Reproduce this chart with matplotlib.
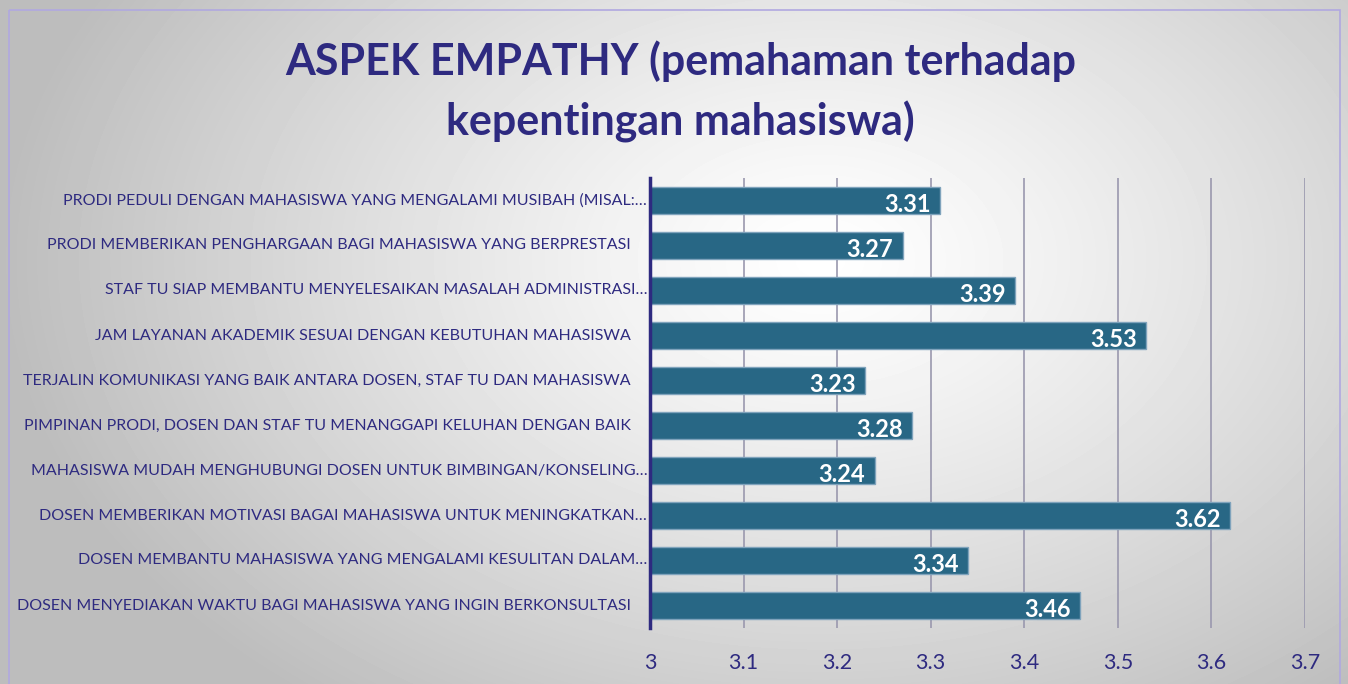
import matplotlib.pyplot as plt
import numpy as np
from matplotlib.patches import Rectangle
from matplotlib.transforms import offset_copy

categories = [
    "PRODI PEDULI DENGAN MAHASISWA YANG MENGALAMI MUSIBAH (MISAL:…",
    "PRODI MEMBERIKAN PENGHARGAAN BAGI MAHASISWA YANG BERPRESTASI",
    "STAF TU SIAP MEMBANTU MENYELESAIKAN MASALAH ADMINISTRASI…",
    "JAM LAYANAN AKADEMIK SESUAI DENGAN KEBUTUHAN MAHASISWA",
    "TERJALIN KOMUNIKASI YANG BAIK ANTARA DOSEN, STAF TU DAN MAHASISWA",
    "PIMPINAN PRODI, DOSEN DAN STAF TU MENANGGAPI KELUHAN DENGAN BAIK",
    "MAHASISWA MUDAH MENGHUBUNGI DOSEN UNTUK BIMBINGAN/KONSELING…",
    "DOSEN MEMBERIKAN MOTIVASI BAGAI MAHASISWA UNTUK MENINGKATKAN…",
    "DOSEN MEMBANTU MAHASISWA YANG MENGALAMI KESULITAN DALAM…",
    "DOSEN MENYEDIAKAN WAKTU BAGI MAHASISWA YANG INGIN BERKONSULTASI",
]
scores = [3.31, 3.27, 3.39, 3.53, 3.23, 3.28, 3.24, 3.62, 3.34, 3.46]
x_ticks = [3, 3.1, 3.2, 3.3, 3.4, 3.5, 3.6, 3.7]

NAVY = "#2E2A80"
BAR = "#286785"
FONT = "Lato"

W, H = 1348, 684
fig = plt.figure(figsize=(W / 100, H / 100), dpi=100)

# radial grey background, brightest near the upper middle
bg = fig.add_axes([0, 0, 1, 1], zorder=0)
yy, xx = np.mgrid[0:H, 0:W]
d = np.sqrt(((xx - 820) / 820) ** 2 + ((yy - 260) / 560) ** 2)
shade = np.clip(1.0 - 0.26 * d ** 1.2, 0.74, 1.0)
bg.imshow(shade, cmap="gray", vmin=0, vmax=1, extent=[0, W, H, 0], aspect="auto")
bg.add_patch(Rectangle((9, 10), 1331, 690, fill=False, edgecolor="#B0A8E0", lw=1.2))
bg.set_xlim(0, W)
bg.set_ylim(H, 0)
bg.axis("off")

ax = fig.add_axes([650 / W, 1 - 628 / H, 655 / W, 450 / H], zorder=1)
ax.patch.set_alpha(0)

y = np.arange(len(categories))
ax.barh(y, [s - 3 for s in scores], left=3, height=0.6, color=BAR,
        edgecolor="#7FA3BC", linewidth=1.0, zorder=3)
ax.set_ylim(len(categories) - 0.5, -0.5)
ax.set_xlim(3, 3.7)

for yi, s in zip(y, scores):
    ax.text(s - 0.01, yi + 0.08, f"{s:.2f}", ha="right", va="center",
            color="white", fontsize=17, fontweight="bold", family=FONT, zorder=4)

lbl_tr = offset_copy(ax.get_yaxis_transform(), fig=fig, x=-2, y=0, units="points")
for yi, c in zip(y, categories):
    txt = c if c.endswith("…") else c + "    "
    ax.text(0, yi, txt, transform=lbl_tr, ha="right", va="center",
            fontsize=11.5, color=NAVY, family=FONT)

ax.set_yticks([])
ax.set_xticks(x_ticks)
ax.set_xticklabels([f"{t:g}" for t in x_ticks], fontsize=15.5, color=NAVY, family=FONT)
ax.tick_params(axis="x", length=0, pad=18)
ax.grid(axis="x", color="#9A98AE", linewidth=1.2, zorder=1)
for side in ["top", "right", "bottom"]:
    ax.spines[side].set_visible(False)
ax.spines["left"].set_color(NAVY)
ax.spines["left"].set_linewidth(2.5)
ax.spines["left"].set_zorder(5)

fig.text(0.505, 0.91, "ASPEK EMPATHY (pemahaman terhadap", ha="center", va="center",
         fontsize=31, fontweight="bold", color=NAVY, family=FONT)
fig.text(0.505, 0.822, "kepentingan mahasiswa)", ha="center", va="center",
         fontsize=31, fontweight="bold", color=NAVY, family=FONT)

fig.savefig("out.png", dpi=100)
